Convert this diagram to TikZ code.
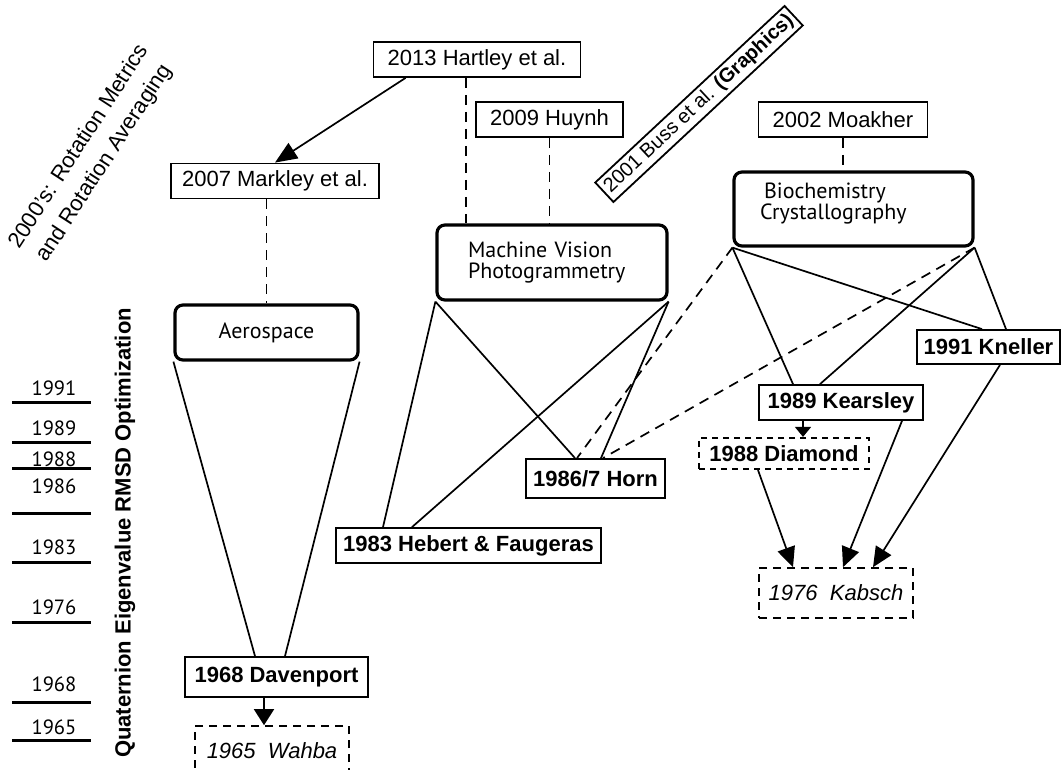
\documentclass[tikz,border=0pt]{standalone}
\usepackage{fontspec}
\setmainfont{Liberation Sans}
\newfontfamily\fieldfont{PT Sans}
\usetikzlibrary{arrows.meta}

\begin{document}
\begin{tikzpicture}[x=0.5pt, y=-0.5pt, font=\fontsize{11}{13}\selectfont,
  >={Triangle[length=10pt,width=9pt]},
  every node/.style={inner sep=2pt},
  paper/.style={draw, line width=0.9pt, minimum height=17.5pt},
  result/.style={paper, font=\fontsize{11}{13}\selectfont\bfseries},
  origin/.style={draw, dash pattern=on 4pt off 3pt, line width=0.8pt, minimum height=25pt, minimum width=77pt, font=\fontsize{11}{13}\selectfont\itshape},
  field/.style={draw, line width=1.6pt, rounded corners=4pt, align=left, font=\fieldfont\fontsize{11}{10.5}\selectfont},
  link/.style={line width=0.85pt},
  hint/.style={link, dash pattern=on 5pt off 3.5pt},
  year/.style={font=\fieldfont\fontsize{10.3}{12}\selectfont}]
\useasboundingbox (0,0) rectangle (1061,770);

% time axis on the left
\draw[line width=1.5pt] (12,403) -- (91,403);
\node[year] (y1991) at (54,388) {1991};
\draw[line width=1.5pt] (12,442) -- (91,442);
\node[year] (y1989) at (54,428) {1989};
\draw[line width=1.5pt] (12,468) -- (91,468);
\node[year] (y1988) at (54,459) {1988};
\draw[line width=1.5pt] (12,513) -- (91,513);
\node[year] (y1986) at (54,486) {1986};
\draw[line width=1.5pt] (12,562) -- (91,562);
\node[year] (y1983) at (54,547) {1983};
\draw[line width=1.5pt] (12,622) -- (91,622);
\node[year] (y1976) at (54,607) {1976};
\draw[line width=1.5pt] (12,702) -- (91,702);
\node[year] (y1968) at (54,684) {1968};
\draw[line width=1.5pt] (12,740) -- (91,740);
\node[year] (y1965) at (54,727) {1965};

\node[rotate=90, font=\fontsize{11}{13}\selectfont\bfseries] (theme) at (125,533) {Quaternion Eigenvalue RMSD Optimization};
\node[rotate=57, align=center, font=\fontsize{11}{15}\selectfont] (era) at (92,155) {2000's: Rotation Metrics\\and Rotation Averaging};

% recent papers
\node[paper, minimum width=103.5pt] (hartley) at (477,59.5) {2013 Hartley et al.};
\node[paper, minimum width=73.5pt] (huynh) at (549.5,119.5) {2009 Huynh};
\node[paper, minimum width=84.5pt] (moakher) at (843,119.5) {2002 Moakher};
\node[paper, minimum width=104pt] (markley) at (275,181) {2007 Markley et al.};
\node[paper, minimum height=13pt, rotate=43, font=\fontsize{10}{12}\selectfont] (buss) at (699,104) {2001 Buss et al. \textbf{(Graphics)}};

% fields
\node[field, minimum width=91.5pt, minimum height=27.5pt] (aero) at (266.5,332.5) {Aerospace};
\node[field, text width=84pt, inner xsep=15.5pt, minimum height=37.5pt] (mv) at (552,262.5) {Machine Vision\\Photogrammetry};
\node[field, text width=93.5pt, inner xsep=13pt, minimum height=37pt] (bio) at (853.5,209) {\hspace*{2pt}Biochemistry\\Crystallography\\[-3pt]\mbox{}};

% eigenvalue papers
\node[result, minimum width=71.5pt, minimum height=17pt] (kneller) at (988.5,347) {1991 Kneller};
\node[result, minimum width=82pt] (kearsley) at (841,402.5) {1989 Kearsley};
\node[result, dash pattern=on 3pt off 2.5pt, line width=1.1pt, minimum width=85pt, minimum height=15.5pt] (diamond) at (784,453.5) {1988 Diamond};
\node[result, minimum width=69.5pt, minimum height=19.5pt] (horn) at (595.5,478.5) {1986/7 Horn};
\node[result, minimum width=132.5pt] (hebert) at (468.5,545.5) {1983 Hebert \& Faugeras};
\node[result, minimum width=91.5pt, minimum height=20pt] (davenport) at (276.5,677) {1968 Davenport};
\node[origin] (kabsch) at (836,593) {1976\ \ Kabsch};
\node[origin] (wahba) at (272,751) {1965\ \ Wahba};

% connectors
\draw[link, ->, >={Triangle[length=11pt,width=9pt]}] ([xshift=16.5pt]hartley.south west) -- (markley.north);
\draw[hint] ([xshift=-5.5pt]hartley.south) -- ([xshift=-5.5pt]mv.north -| hartley.south);
\draw[hint] (huynh.south) -- (mv.north -| huynh.south);
\draw[hint] (moakher.south) -- (bio.north -| moakher.south);
\draw[hint] (markley.south -| aero.north) -- (aero.north);

\draw[link] (aero.south west) -- ([xshift=-10.75pt]davenport.north);
\draw[link] (aero.south east) -- ([xshift=4.25pt]davenport.north);
\draw[link, ->, >={Triangle[length=8pt,width=10pt]}] ([xshift=-6.25pt]davenport.south) -- ([xshift=-6.25pt]wahba.north -| davenport.south);

\draw[link] (mv.south west) -- ([xshift=-42.75pt]hebert.north);
\draw[link] (mv.south west) -- ([xshift=-10.25pt]horn.north);
\draw[link] (mv.south east) -- ([xshift=-28.25pt]hebert.north);
\draw[link] (mv.south east) -- ([xshift=2.75pt]horn.north);

\draw[hint] (bio.south west) -- ([xshift=-9.25pt]horn.north);
\draw[hint] (bio.south east) -- ([xshift=3.75pt]horn.north);
\draw[link] (bio.south west) -- ([xshift=-24pt]kearsley.north);
\draw[link] (bio.south west) -- ([xshift=-3.25pt]kneller.north);
\draw[link] (bio.south east) -- ([xshift=-10.5pt]kearsley.north);
\draw[link] (bio.south east) -- ([xshift=8.75pt]kneller.north);

\draw[link, ->, >={Triangle[length=5pt,width=8pt]}] ([xshift=-19pt]kearsley.south) -- ([xshift=-19pt]diamond.north -| kearsley.south);
\draw[link, ->] ([xshift=-13pt]diamond.south) -- ([xshift=-21.5pt]kabsch.north);
\draw[link, ->] ([xshift=30.5pt]kearsley.south) -- ([xshift=3.5pt]kabsch.north);
\draw[link, ->] ([xshift=5.75pt]kneller.south) -- ([xshift=18.5pt]kabsch.north);
\end{tikzpicture}
\end{document}
